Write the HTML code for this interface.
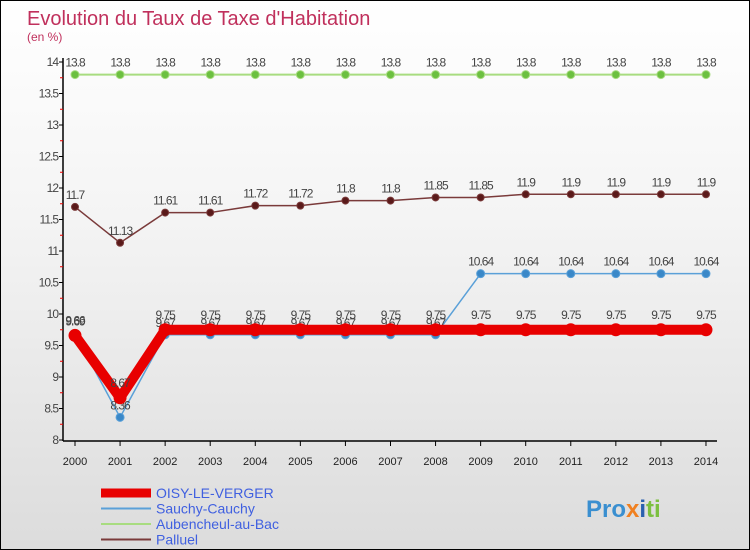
<!DOCTYPE html>
<html><head><meta charset="utf-8"><style>
body{margin:0}
#c{width:748px;height:548px;border:1px solid #000;background:linear-gradient(#fff 0%,#f4f4f4 40%,#dcdcdc 100%);position:relative;overflow:hidden;font-family:"Liberation Sans",sans-serif}
</style></head><body>
<div id="c">
<svg id="s" width="748" height="548">
<text x="26" y="24" font-size="20" fill="#c0305c">Evolution du Taux de Taxe d'Habitation</text>
<text x="26" y="40" font-size="12" fill="#c0305c">(en %)</text>
<g id="g"></g>
<text x="585" y="516" font-size="24" font-weight="bold" fill="#3a8fd0">Pro<tspan fill="#f08020">x</tspan><tspan fill="#2a60b0">i</tspan><tspan fill="#7cc040">ti</tspan></text>
</svg></div>
<script>
const years=[2000,2001,2002,2003,2004,2005,2006,2007,2008,2009,2010,2011,2012,2013,2014];
const oisy=[9.66,8.67,9.75,9.75,9.75,9.75,9.75,9.75,9.75,9.75,9.75,9.75,9.75,9.75,9.75];
const sauchy=[9.69,8.36,9.67,9.67,9.67,9.67,9.67,9.67,9.67,10.64,10.64,10.64,10.64,10.64,10.64];
const aubencheul=[13.8,13.8,13.8,13.8,13.8,13.8,13.8,13.8,13.8,13.8,13.8,13.8,13.8,13.8,13.8];
const palluel=[11.7,11.13,11.61,11.61,11.72,11.72,11.8,11.8,11.85,11.85,11.9,11.9,11.9,11.9,11.9];
const yTicks=[8,8.5,9,9.5,10,10.5,11,11.5,12,12.5,13,13.5,14];
const X=i=>74+i*45.07, Y=v=>439-(v-8)*63;
const NS="http://www.w3.org/2000/svg", g=document.getElementById('g');
function el(t,a){const e=document.createElementNS(NS,t);for(const k in a)e.setAttribute(k,a[k]);g.appendChild(e);return e;}
let e=el('line',{x1:62,y1:57,x2:62,y2:440,stroke:'#000','stroke-width':1.5});

e=el('line',{x1:62,y1:440,x2:716,y2:440,stroke:'#000','stroke-width':1.5});

yTicks.forEach(v=>{el('line',{x1:58,x2:62,y1:Y(v),y2:Y(v),stroke:'#000'});
if(v<14)el('line',{x1:59,x2:62,y1:Y(v+0.25),y2:Y(v+0.25),stroke:'#e00'});
e=el('text',{x:57,y:Y(v)+4,'font-size':12,fill:'#444','text-anchor':'end','letter-spacing':'-1'});e.textContent=v;
});
years.forEach((y,i)=>{el('line',{x1:X(i),x2:X(i),y1:440,y2:445,stroke:'#000'});
e=el('text',{x:X(i),y:464,'font-size':11,fill:'#222','text-anchor':'middle'});e.textContent=y;
});
function series(d,col,w,r,dot,name,labOff){
const p=el('polyline',{points:d.map((v,i)=>X(i)+','+Y(v)).join(' '),fill:'none',stroke:col,'stroke-width':w,'stroke-linejoin':'round'});

d.forEach((v,i)=>{const c=el('circle',{cx:X(i),cy:Y(v),r:r,fill:dot,stroke:col,'stroke-width':1});

const t=el('text',{x:X(i),y:Y(v)+labOff,'font-size':12,fill:'#444','text-anchor':'middle','letter-spacing':'-1'});t.textContent=v;
});}
series(aubencheul,'#a8dc80',2,4,'#6cc040','aubencheul',-8);
series(palluel,'#7a3a3a',1.5,3.5,'#5a1a1a','palluel',-8);
series(sauchy,'#5aa0d8',1.5,4,'#3a88c8','sauchy',-8);
series(oisy,'#e80000',10,6,'#e80000','oisy',-11);
const leg=[['OISY-LE-VERGER','#e80000',9],['Sauchy-Cauchy','#5aa0d8',2],['Aubencheul-au-Bac','#a8dc80',2],['Palluel','#7a3a3a',2]];
leg.forEach((l,i)=>{const y=492+i*15.5;
e=el('line',{x1:100,x2:150,y1:y,y2:y,stroke:l[1],'stroke-width':l[2]});

e=el('text',{x:155,y:y+5,'font-size':14,fill:'#4060e0'});e.textContent=l[0];
});
</script></body></html>
